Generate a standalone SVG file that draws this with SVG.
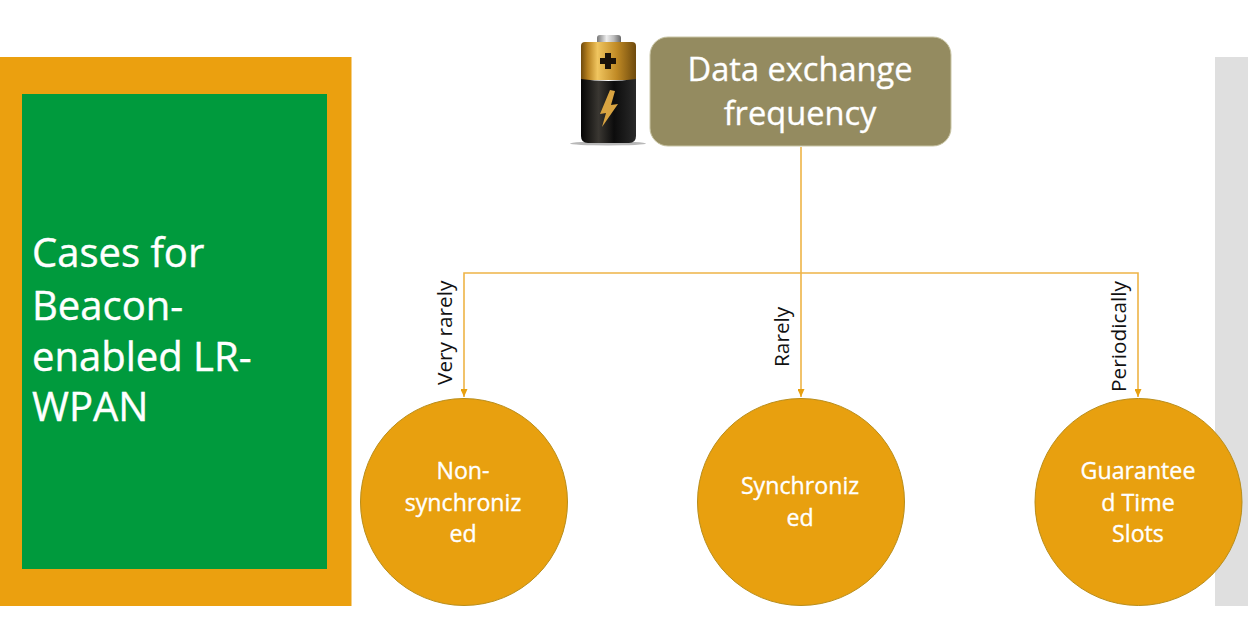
<svg xmlns="http://www.w3.org/2000/svg" width="1248" height="618" viewBox="0 0 1248 618">
<style>
.t{font-family:"Open Sans","Noto Sans",sans-serif;fill:#fff;text-anchor:middle;stroke:#fff;stroke-width:.35}
.c{font-size:23.200px}
.l{font-family:"Open Sans","Noto Sans",sans-serif;font-size:20.800px;fill:#111}
.n{fill:#e8a00f;stroke:#b98d1a;stroke-width:1}
.e{fill:none;stroke:#eeb447;stroke-width:1.600}
</style>
<defs>
<marker id="a" markerUnits="userSpaceOnUse" markerWidth="9" markerHeight="7" refX="8" refY="3.500" orient="auto"><path d="M0 0L8 3.500L0 7Z" fill="#e8a00f"/></marker>
<linearGradient id="gold" x1="0" x2="1" y1="0" y2="0"><stop offset="0" stop-color="#6f4a0c"/><stop offset=".12" stop-color="#b57f1e"/><stop offset=".3" stop-color="#f0c55f"/><stop offset=".65" stop-color="#c08a25"/><stop offset="1" stop-color="#6e4a0d"/></linearGradient>
<linearGradient id="blk" x1="0" x2="1" y1="0" y2="0"><stop offset="0" stop-color="#050505"/><stop offset=".32" stop-color="#3a3732"/><stop offset=".6" stop-color="#0c0c0c"/><stop offset="1" stop-color="#2a2a2a"/></linearGradient>
<linearGradient id="cap" x1="0" x2="1" y1="0" y2="0"><stop offset="0" stop-color="#777"/><stop offset=".4" stop-color="#eee"/><stop offset=".7" stop-color="#bbb"/><stop offset="1" stop-color="#666"/></linearGradient>
<linearGradient id="shine" x1="0" x2="0" y1="0" y2="1"><stop offset="0" stop-color="#000" stop-opacity="0"/><stop offset=".85" stop-color="#000" stop-opacity="0"/><stop offset="1" stop-color="#000" stop-opacity=".3"/></linearGradient>
</defs>
<rect id="right-panel" x="1215" y="57" width="33" height="549" fill="#dfdfdf"/>
<g id="title-panel">
<rect x="0" y="57" width="351.500" height="549" fill="#eba00f"/>
<rect x="22" y="94" width="305" height="475" fill="#009a3d"/>
<text style="font-family:'Open Sans','Noto Sans',sans-serif;font-size:40px;stroke:#fff;stroke-width:.4" fill="#fff"><tspan x="32" y="267">Cases for</tspan><tspan x="32" y="320">Beacon-</tspan><tspan x="32" y="371">enabled LR-</tspan><tspan x="32" y="421">WPAN</tspan></text>
</g>
<g id="battery">
<ellipse cx="608" cy="143.500" rx="38" ry="2" fill="#888" opacity=".6"/>
<rect x="597" y="35" width="24" height="10" rx="3" fill="url(#cap)"/>
<path d="M581 46Q581 42 585 42H632Q636 42 636 46V80H581Z" fill="url(#gold)"/>
<path d="M581 79Q608 83 636 79V136Q636 143 629 143H588Q581 143 581 136Z" fill="url(#blk)"/>
<path d="M605 53h6v5h5v6h-5v5h-6v-5h-5v-6h5z" fill="#1a1209"/>
<path d="M610 90L600 114L606 113L602 127L618 104L611 105L615 91Z" fill="#d9a441"/>
</g>
<g id="connectors">
<path class="e" d="M801 147V397" marker-end="url(#a)"/>
<path class="e" d="M801 273H464V397" marker-end="url(#a)"/>
<path class="e" d="M801 273H1138V397" marker-end="url(#a)"/>
</g>
<text class="l" transform="translate(452 385) rotate(-90)">Very rarely</text>
<text class="l" transform="translate(789 367) rotate(-90)">Rarely</text>
<text class="l" transform="translate(1126 392) rotate(-90)">Periodically</text>
<g id="data-exchange">
<rect x="650" y="37" width="301" height="109" rx="18" fill="#948b60" stroke="#c9c5a5" stroke-width="1"/>
<text class="t" style="font-size:32.600px"><tspan x="800" y="81">Data exchange</tspan><tspan x="800" y="125">frequency</tspan></text>
</g>
<g id="non-synchronized"><circle class="n" cx="464" cy="502" r="103.500"/><text class="t c"><tspan x="463" y="479">Non-</tspan><tspan x="463" y="511">synchroniz</tspan><tspan x="463" y="542">ed</tspan></text></g>
<g id="synchronized"><circle class="n" cx="801" cy="502" r="103.500"/><text class="t c"><tspan x="800" y="494">Synchroniz</tspan><tspan x="800" y="526">ed</tspan></text></g>
<g id="gts"><circle class="n" cx="1138.500" cy="502" r="103.500"/><text class="t c"><tspan x="1138" y="479">Guarantee</tspan><tspan x="1138" y="511">d Time</tspan><tspan x="1138" y="542">Slots</tspan></text></g>
</svg>
